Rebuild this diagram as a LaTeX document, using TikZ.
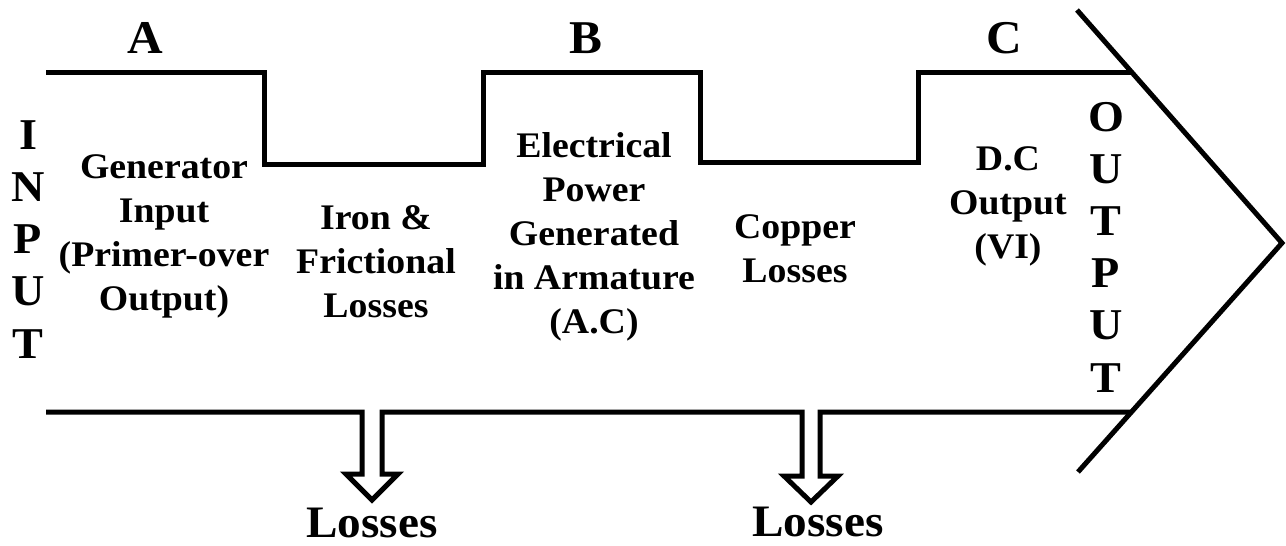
\documentclass[tikz,border=0pt]{standalone}
\usepackage{fontspec}
\setmainfont[FakeStretch=1.05]{Liberation Serif}
\begin{document}
\begin{tikzpicture}[x=1pt,y=-1pt,
  edge/.style={line width=5pt,line join=miter,black},
  lbl/.style={font=\fontsize{36}{44}\selectfont\bfseries,align=center,inner sep=0pt,anchor=base},
  big/.style={font=\fontsize{47}{52}\selectfont\bfseries,inner sep=0pt,anchor=base},
  vert/.style={font=\fontsize{44}{52.2}\selectfont\bfseries,align=center,inner sep=0pt,anchor=base},
  loss/.style={font=\fontsize{45}{50}\selectfont\bfseries,inner sep=0pt,anchor=base}]
\useasboundingbox (0,0) rectangle (1286,546);
% top stepped outline
\coordinate (t0) at (46,72);
\coordinate (t1) at (264,72);
\coordinate (t2) at (264,164);
\coordinate (t3) at (483,164);
\coordinate (t4) at (483,72);
\coordinate (t5) at (700,72);
\coordinate (t6) at (700,162);
\coordinate (t7) at (918,162);
\coordinate (t8) at (918,72);
\coordinate (t9) at (1132,72);
\draw[edge] (t0) -- (t1) -- (t2) -- (t3) -- (t4) -- (t5) -- (t6) -- (t7) -- (t8) -- (t9);
% arrow head
\coordinate (h0) at (1077,10);
\coordinate (tip) at (1282,243);
\coordinate (h1) at (1078,472);
\draw[edge] (h0) -- (tip) -- (h1);
% bottom line with loss arrows
\coordinate (b0) at (46,412);
\coordinate (b9) at (1132,412);
\draw[edge] (b0) -- (362,412) -- (362,474) -- (346,474) -- (372,500) -- (398,474) -- (382,474) -- (382,412)
  -- (802,412) -- (802,476) -- (784,476) -- (811,502) -- (838,476) -- (820,476) -- (820,412) -- (b9);
% labels
\node[big] (A) at (145,53) {A};
\node[big] (B) at (586,53) {B};
\node[big] (C) at (1004,53) {C};
\node[vert] (in) at (28,358) {I\\N\\P\\U\\T};
\node[vert] (out) at (1106,392) {O\\U\\T\\P\\U\\T};
\node[lbl] (gen) at (164,310) {Generator\\Input\\(Primer-over\\Output)};
\node[lbl] (iron) at (376,317) {Iron \&\\Frictional\\Losses};
\node[lbl] (elec) at (594,333) {Electrical\\Power\\Generated\\in Armature\\(A.C)};
\node[lbl] (cu) at (795,282) {Copper\\Losses};
\node[lbl] (dc) at (1008,258) {D.C\\Output\\(VI)};
\node[loss] (l1) at (372,537) {Losses};
\node[loss] (l2) at (818,536) {Losses};
\end{tikzpicture}
\end{document}
